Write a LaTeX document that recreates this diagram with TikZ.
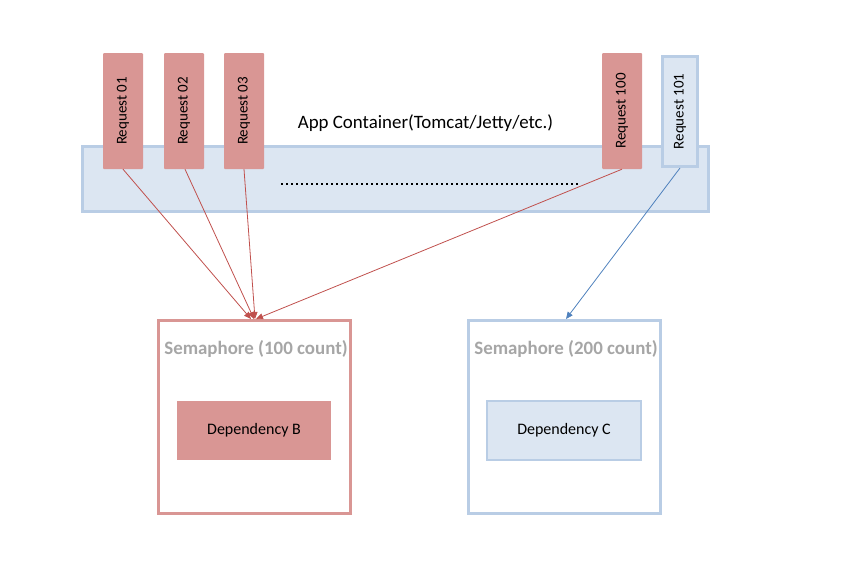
\documentclass[tikz,border=0pt]{standalone}
\usepackage{fontspec}
\setmainfont{Carlito}
\usetikzlibrary{arrows.meta}
\definecolor{redfill}{HTML}{D99694}
\definecolor{bluefill}{HTML}{DCE6F2}
\definecolor{blueline}{HTML}{B9CDE5}
\definecolor{redarrow}{HTML}{C0504D}
\definecolor{bluearrow}{HTML}{4F81BD}
\definecolor{titlegray}{HTML}{A6A6A6}
\tikzset{
  reqred/.style={draw=none, fill=redfill, rounded corners=1pt, minimum width=40pt, minimum height=116pt, inner sep=0pt},
  reqblue/.style={draw=blueline, line width=3pt, fill=bluefill, minimum width=35pt, minimum height=110pt, inner sep=0pt},
  reqtext/.style={rotate=90, font=\fontsize{15}{18}\selectfont},
  sembox/.style={line width=3pt, fill=white, minimum width=192pt, minimum height=193pt, inner sep=0pt},
  semtitle/.style={font=\fontsize{18.9}{22}\selectfont\bfseries, text=titlegray},
  depbox/.style={minimum width=154pt, minimum height=59pt, inner sep=0pt, font=\fontsize{16}{19}\selectfont},
  redarr/.style={draw=redarrow, line width=0.8pt, -{Triangle[length=7pt,width=6pt]}},
  bluearr/.style={draw=bluearrow, line width=0.8pt, -{Triangle[length=7pt,width=6pt]}},
}
\begin{document}
\begin{tikzpicture}[x=1pt,y=-1pt]
\useasboundingbox (0,0) rectangle (858,579);
% container
\node[draw=blueline, line width=3pt, fill=bluefill, minimum width=626pt, minimum height=65pt, inner sep=0pt] (cont) at (395.5,179) {};
\node[font=\fontsize{18.9}{22}\selectfont, anchor=center] (conttitle) at (425.5,123) {App Container(Tomcat/Jetty/etc.)};
\draw[line width=2.6pt, dash pattern=on 2pt off 3pt] (281,184) -- (580,184);
% requests
\node[reqred] (r1) at (123,111) {};
\node[reqtext] at (r1) {Request 01};
\node[reqred] (r2) at (184,111) {};
\node[reqtext] at (r2) {Request 02};
\node[reqred] (r3) at (244,111) {};
\node[reqtext] at (r3) {Request 03};
\node[reqred] (r100) at (622,111) {};
\node[reqtext] at (r100) {Request 100};
\node[reqblue] (r101) at (680,111.5) {};
\node[reqtext] at (r101) {Request 101};
% semaphores
\node[sembox, draw=redfill] (semB) at (254.5,417) {};
\node[semtitle] (semBt) at (256,349) {Semaphore (100 count)};
\node[depbox, fill=redfill] (depB) at (254,430.5) {Dependency B};
\node[sembox, draw=blueline] (semC) at (564.5,417) {};
\node[semtitle] (semCt) at (566,349) {Semaphore (200 count)};
\node[depbox, fill=bluefill, draw=blueline, line width=2.5pt] (depC) at (564,430.5) {Dependency C};
% arrow targets
\coordinate (tB1) at (251,319);
\coordinate (tB2) at (254,319);
\coordinate (tB3) at (255,319);
\coordinate (tB4) at (256,319);
\coordinate (tC) at (566,319);
\draw[redarr] (r1.south) -- (tB1);
\draw[redarr] ([xshift=1pt]r2.south) -- (tB2);
\draw[redarr] (r3.south) -- (tB3);
\draw[redarr] (r100.south) -- (tB4);
\draw[bluearr] (r101.south) -- (tC);
\end{tikzpicture}
\end{document}
